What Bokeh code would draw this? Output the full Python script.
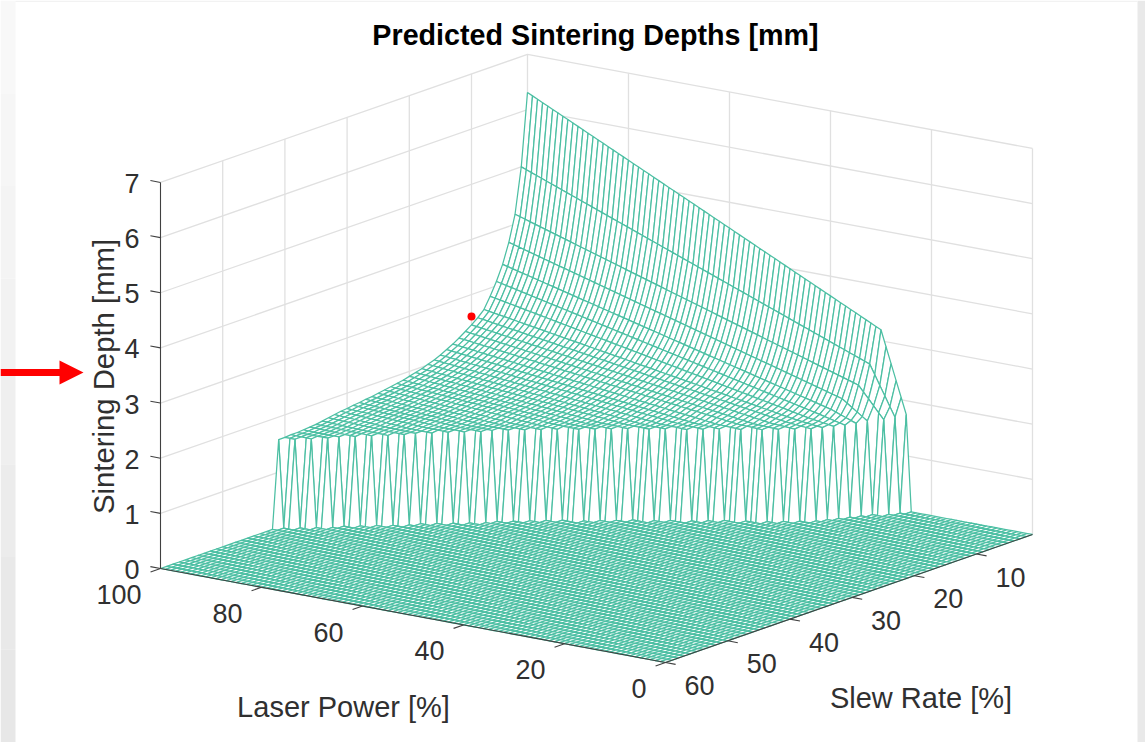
import math
from bokeh.embed import file_html
from bokeh.resources import INLINE
from bokeh.plotting import figure
from bokeh.core.properties import value

TITLE = "Predicted Sintering Depths [mm]"
X_LABEL = "Laser Power [%]"
Y_LABEL = "Slew Rate [%]"
Z_LABEL = "Sintering Depth [mm]"

power_grid = list(range(0, 101))
slew_grid = list(range(1, 61))
power_ticks = [0, 20, 40, 60, 80, 100]
slew_ticks = [10, 20, 30, 40, 50, 60]
depth_ticks = [0, 1, 2, 3, 4, 5, 6, 7]

# one entry per slew rate 1, 2, ... 41 (deeper slew rates are not sintered)
depth_at_full_power = [6.31, 5.00, 4.18, 3.71, 3.35, 3.08, 2.85, 2.65, 2.54, 2.45, 2.37, 2.29, 2.22, 2.16,
                       2.10, 2.05, 2.01, 1.97, 1.94, 1.91, 1.88, 1.86, 1.84, 1.82, 1.80, 1.78, 1.77, 1.75,
                       1.74, 1.72, 1.71, 1.69, 1.67, 1.65, 1.63, 1.62, 1.61, 1.60, 1.60, 1.59, 1.59]
depth_at_knee = [3.20, 2.60, 2.24, 2.00, 1.83, 1.76, 1.72, 1.70, 1.69, 1.68, 1.67, 1.67, 1.66, 1.66,
                 1.66, 1.65, 1.65, 1.65, 1.65, 1.65, 1.65, 1.65, 1.65, 1.64, 1.64, 1.64, 1.64, 1.64,
                 1.64, 1.64, 1.63, 1.63, 1.63, 1.62, 1.62, 1.61, 1.60, 1.60, 1.60, 1.59, 1.59]
depth_at_edge = [1.75, 1.72, 1.70, 1.68, 1.66, 1.65, 1.65, 1.65, 1.65, 1.65, 1.65, 1.65, 1.64, 1.64,
                 1.64, 1.64, 1.64, 1.64, 1.64, 1.64, 1.64, 1.64, 1.63, 1.63, 1.63, 1.63, 1.63, 1.63,
                 1.63, 1.63, 1.62, 1.62, 1.62, 1.61, 1.61, 1.60, 1.60, 1.60, 1.59, 1.59, 1.59]
lowest_sintered_power = [25, 26, 27, 29, 30, 31, 32, 33, 34, 36, 38, 40, 43, 46, 48, 50, 53, 55, 58, 60, 62,
                         64, 67, 69, 71, 73, 75, 76, 78, 80, 82, 84, 85, 87, 89, 91, 93, 94, 96, 98, 100]
knee_width = 5
marker_point = (100, 10, 2.60)

MESH = "#4cbfa3"
GRID = "#e0e0e0"
INK = "#404040"
TEXT = "#303030"
FONT = "Liberation Sans"
frame_left_shades = ["#f8f8f8", "#f6f6f6", "#f4f4f4", "#f2f2f2", "#efefef", "#ececec", "#e9e9e9", "#e7e7e7"]
FRAME_RIGHT = "#e9e9e9"


def depth(power, slew):
    if slew > len(lowest_sintered_power):
        return 0.0
    i = slew - 1
    cut = lowest_sintered_power[i]
    if power < cut:
        return 0.0
    knee = min(cut + knee_width, 100)
    top = depth_at_knee[i] if knee < 100 else depth_at_full_power[i]
    if power <= knee:
        t = (power - cut) / max(knee - cut, 1)
        return depth_at_edge[i] + t * (top - depth_at_edge[i])
    t = (power - knee) / (100 - knee)
    return top + t * (depth_at_full_power[i] - top)


# orthographic view of the MATLAB axes box, in page pixels
ORIGIN = (665.0, 662.0)
PER_POWER = (-5.05, -0.94)
PER_SLEW = (-6.22, 2.17)
PER_DEPTH = 55.15


def project(power, slew, z=0.0):
    s = slew - 60
    return (ORIGIN[0] + PER_POWER[0] * power + PER_SLEW[0] * s,
            ORIGIN[1] + PER_POWER[1] * power + PER_SLEW[1] * s - PER_DEPTH * z)


p = figure(width=1145, height=742, x_range=(0, 1145), y_range=(742, 0),
           x_axis_type=None, y_axis_type=None, toolbar_location=None,
           output_backend="svg", min_border=0, outline_line_color=None,
           background_fill_color="white", border_fill_color="white")
p.grid.visible = False

# screenshot frame
band = 742 / len(frame_left_shades)
for i, shade in enumerate(frame_left_shades):
    p.quad(left=[0], right=[15], top=[i * band], bottom=[(i + 1) * band],
           fill_color=shade, line_color=None)
p.quad(left=[1137], right=[1145], top=[0], bottom=[742], fill_color=FRAME_RIGHT, line_color=None)
p.quad(left=[15], right=[1137], top=[0], bottom=[1.5], fill_color="#f2f2f2", line_color=None)

# back walls
gx, gy = [], []
for z in depth_ticks[1:]:
    a, b, c = project(100, 60, z), project(100, 1, z), project(0, 1, z)
    gx.append([a[0], b[0], c[0]])
    gy.append([a[1], b[1], c[1]])
for pw in power_ticks:
    a, b = project(pw, 1), project(pw, 1, 7)
    gx.append([a[0], b[0]])
    gy.append([a[1], b[1]])
for sl in slew_ticks[:-1]:
    a, b = project(100, sl), project(100, sl, 7)
    gx.append([a[0], b[0]])
    gy.append([a[1], b[1]])
p.multi_line(gx, gy, line_color=GRID, line_width=1.3)

# surface: painted from the far corner towards the viewer so that white faces hide what is behind
qx, qy = [], []
for sl0, sl1 in zip(slew_grid[:-1], slew_grid[1:]):
    for pw1, pw0 in zip(reversed(power_grid[1:]), reversed(power_grid[:-1])):
        corners = [(pw1, sl0), (pw0, sl0), (pw0, sl1), (pw1, sl1)]
        pts = [project(a, b, depth(a, b)) for a, b in corners]
        qx.append([q[0] for q in pts])
        qy.append([q[1] for q in pts])
p.patches(qx, qy, fill_color="white", line_color=MESH, line_width=1.25)

# axis lines and ticks
ax, ay = [], []
a, b, c, d = project(100, 60), project(0, 60), project(0, 1), project(100, 60, 7)
ax += [[a[0], b[0], c[0]], [a[0], d[0]]]
ay += [[a[1], b[1], c[1]], [a[1], d[1]]]
TICK = 2.0
for z in depth_ticks:
    a = project(100, 60, z)
    ax.append([a[0], a[0] + PER_POWER[0] * TICK])
    ay.append([a[1], a[1] + PER_POWER[1] * TICK])
for pw in power_ticks:
    a = project(pw, 60)
    ax.append([a[0], a[0] + PER_SLEW[0] * TICK * 0.8])
    ay.append([a[1], a[1] + PER_SLEW[1] * TICK * 0.8])
for sl in slew_ticks:
    a = project(0, sl)
    ax.append([a[0], a[0] - PER_POWER[0] * TICK])
    ay.append([a[1], a[1] - PER_POWER[1] * TICK])
p.multi_line(ax, ay, line_color=INK, line_width=1.1)


def label(x, y, text, size, align="center", angle=0.0, weight="normal", color=TEXT):
    p.text([x], [y], text=[text], text_font=value(FONT), text_font_size=f"{size}px",
           text_color=color, text_align=align, text_baseline="middle", angle=angle,
           text_font_style=weight)


for z in depth_ticks:
    a = project(100, 60, z)
    label(a[0] - 21, a[1] + 1, str(z), 27, "right")
for pw in power_ticks:
    a = project(pw, 60)
    label(a[0] - 19, a[1] + 26, str(pw), 27, "right")
for sl in slew_ticks:
    a = project(0, sl)
    label(a[0] + 34, a[1] + 23, str(sl), 27)

label(595, 34.5, TITLE, 28.7, weight="bold", color="black")
label(343, 706, X_LABEL, 29)
label(920.5, 697, Y_LABEL, 29)
label(103, 376, Z_LABEL, 29.3, angle=math.pi / 2)

# operating point
mx, my = project(*marker_point)
p.scatter([mx], [my], size=8, fill_color="#ff0000", line_color=None)

# annotation arrow
p.patch([0, 59, 59, 83, 59, 59, 0], [368.5, 368.5, 360, 372, 384, 375.5, 375.5],
        fill_color="#ff0000", line_color=None)

open("out.html", "w").write(file_html(p, INLINE))
